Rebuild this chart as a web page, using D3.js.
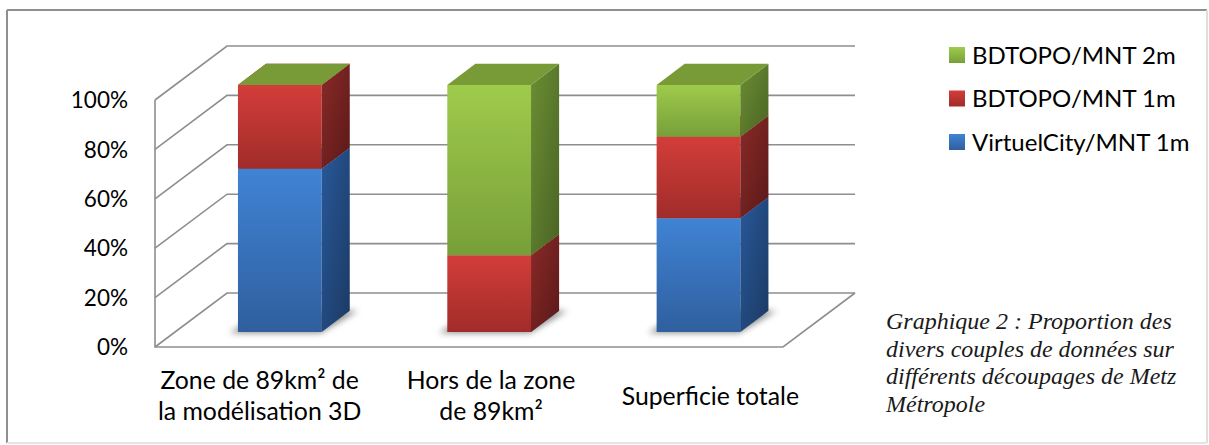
<!DOCTYPE html>
<html><head><meta charset="utf-8">
<script src="https://cdn.jsdelivr.net/npm/d3@7"></script>
<style>
html,body{margin:0;padding:0;background:#fff;}
svg{display:block;}
text.sans{font-family:Lato, "Open Sans", sans-serif;}
text.serif{font-family:"Liberation Serif", "Times New Roman", serif;font-style:italic;}
</style></head>
<body>
<svg id="chart" width="1209" height="445"></svg>
<script>
// ---------- data ----------
const categories = [["Zone de 89km² de","la modélisation 3D"],["Hors de la zone","de 89km²"],["Superficie totale"]];
const seriesNames = ["VirtuelCity/MNT 1m","BDTOPO/MNT 1m","BDTOPO/MNT 2m"];
const virtuelCity1m = [66, 0, 46];
const bdtopo1m = [34, 31, 33];
const bdtopo2m = [0, 69, 21];
const tickValues = [0, 20, 40, 60, 80, 100];
const tickLabels = ["0%","20%","40%","60%","80%","100%"];
const captionLines = ["Graphique 2 : Proportion des","divers couples de données sur","différents découpages de Metz","Métropole"];

// ---------- layout / style ----------
const W = 1209, H = 445;
const plot = {x0:155, x1:783, yBottom:347, yTop:100};
const depth = {dx:72, dy:-54};
const barZ = {front:0.28, back:0.67};
const labelDx = [0, 22, 32];
const colors = [
  {front:["#4083d4","#2f5f9e"], side:["#28589a","#1c3a62"], top:"#3568a8"},
  {front:["#d33d39","#a02c2a"], side:["#8a2a28","#5a1918"], top:"#a83230"},
  {front:["#9fcb4b","#779f39"], side:["#6b8e33","#4a6424"], top:"#789b37"}
];
const gridColor = "#8e8e8e";

const svg = d3.select("#chart");
const defs = svg.append("defs");

// outer frame
svg.append("rect").attr("x",0).attr("y",0).attr("width",W).attr("height",H).attr("fill","#fff");
svg.append("line").attr("x1",7).attr("y1",10).attr("x2",1207).attr("y2",10).attr("stroke","#8f8f8f").attr("stroke-width",2);
svg.append("line").attr("x1",7).attr("y1",10).attr("x2",7).attr("y2",443).attr("stroke","#8f8f8f").attr("stroke-width",2);
svg.append("line").attr("x1",1207).attr("y1",10).attr("x2",1207).attr("y2",443).attr("stroke","#dedede").attr("stroke-width",2);
svg.append("line").attr("x1",7).attr("y1",443).attr("x2",1207).attr("y2",443).attr("stroke","#e4e4e4").attr("stroke-width",2);

// scales
const y = d3.scaleLinear().domain([0,100]).range([plot.yBottom, plot.yTop]);
const x = d3.scaleBand().domain(d3.range(categories.length)).range([plot.x0, plot.x1]).paddingInner(0.6).paddingOuter(0.3);
const P = (px, v, z) => [px + z*depth.dx, y(v) + z*depth.dy];

// gradients
colors.forEach((c,i)=>{
  const gf = defs.append("linearGradient").attr("id","gf"+i).attr("x1",0).attr("y1",0).attr("x2",0).attr("y2",1);
  gf.append("stop").attr("offset","0%").attr("stop-color",c.front[0]);
  gf.append("stop").attr("offset","100%").attr("stop-color",c.front[1]);
  const gs = defs.append("linearGradient").attr("id","gs"+i).attr("x1",0).attr("y1",0).attr("x2",1).attr("y2",1);
  gs.append("stop").attr("offset","0%").attr("stop-color",c.side[0]);
  gs.append("stop").attr("offset","100%").attr("stop-color",c.side[1]);
});
const blur = defs.append("filter").attr("id","shadow").attr("x","-50%").attr("y","-50%").attr("width","200%").attr("height","200%");
blur.append("feGaussianBlur").attr("stdDeviation",3);

// grid
const g = svg.append("g").attr("fill","none").attr("stroke",gridColor).attr("stroke-width",1.6);
const line = d3.line();
tickValues.forEach(v=>{
  g.append("path").attr("d", line([P(plot.x0,v,0), P(plot.x0,v,1), P(plot.x1,v,1)]));
});
g.append("path").attr("d", line([P(plot.x0,100,0), P(plot.x0,0,0), P(plot.x1,0,0), P(plot.x1,0,1)]));

// tick labels
svg.append("g").selectAll("text").data(tickValues).join("text").attr("class","sans")
  .attr("x", plot.x0 - 27).attr("y", d=>y(d)).attr("dy","0.36em")
  .attr("text-anchor","end").attr("font-size",22.5).attr("fill","#000")
  .text((d,i)=>tickLabels[i]);

// bars
const series = [virtuelCity1m, bdtopo1m, bdtopo2m];
const stack = categories.map((c,ci)=>{
  let acc = 0;
  return series.map((s,si)=>{ const y0 = acc; acc += s[ci]; return {ci, si, y0, y1: acc}; });
});
const bars = svg.append("g");
stack.forEach((segs,ci)=>{
  const xl = x(ci), xr = x(ci)+x.bandwidth();
  // shadow
  bars.append("path").attr("filter","url(#shadow)").attr("fill","rgba(0,0,0,0.45)")
    .attr("d", line([P(xl-7,0,barZ.front-0.02), P(xr,0,barZ.front-0.02), P(xr+8,0,barZ.back), P(xl,0,barZ.back)])+"Z");
  segs.forEach(s=>{
    const c = s.si;
    const front = [P(xl,s.y0,barZ.front), P(xr,s.y0,barZ.front), P(xr,s.y1,barZ.front), P(xl,s.y1,barZ.front)];
    const side = [P(xr,s.y0,barZ.front), P(xr,s.y0,barZ.back), P(xr,s.y1,barZ.back), P(xr,s.y1,barZ.front)];
    const top = [P(xl,s.y1,barZ.front), P(xr,s.y1,barZ.front), P(xr,s.y1,barZ.back), P(xl,s.y1,barZ.back)];
    if (s.y1 > s.y0) {
      bars.append("path").attr("d", line(front)+"Z").attr("fill","url(#gf"+c+")");
      bars.append("path").attr("d", line(side)+"Z").attr("fill","url(#gs"+c+")");
    }
    bars.append("path").attr("d", line(top)+"Z").attr("fill", colors[c].top);
  });
});

// category labels
categories.forEach((lines,ci)=>{
  const cx = x(ci) + x.bandwidth()/2 + labelDx[ci];
  const lh = 31, cy = 396;
  const t = svg.append("text").attr("class","sans").attr("text-anchor","middle").attr("font-size",24.8).attr("fill","#000");
  lines.forEach((l,li)=>{
    t.append("tspan").attr("x",cx).attr("y", cy + (li - (lines.length-1)/2)*lh).attr("dy","0.36em").text(l);
  });
});

// legend
const legendOrder = [2,1,0];
const lg = svg.append("g");
legendOrder.forEach((si,i)=>{
  const cy = 55 + i*43.5;
  lg.append("rect").attr("x",949).attr("y",cy-8).attr("width",16).attr("height",16).attr("fill","url(#gf"+si+")");
  lg.append("text").attr("class","sans").attr("x",972).attr("y",cy).attr("dy","0.36em").attr("font-size",24).attr("fill","#000").text(seriesNames[si]);
});

// caption
const cap = svg.append("text").attr("class","serif").attr("font-size",24).attr("fill","#1a1a1a");
captionLines.forEach((l,i)=>{
  cap.append("tspan").attr("x",886).attr("y",329 + i*27.7).text(l);
});
</script>
</body></html>
